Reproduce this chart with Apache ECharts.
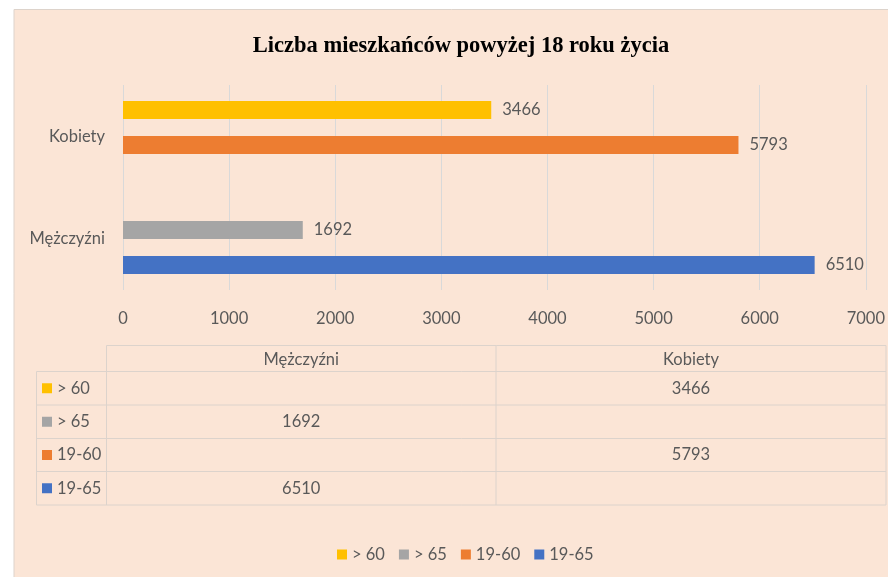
<!DOCTYPE html>
<html>
<head>
<meta charset="utf-8">
<script src="https://cdn.jsdelivr.net/npm/echarts@6/dist/echarts.min.js"></script>
<style>
  html, body { margin: 0; padding: 0; background: #ffffff; }
  #chart { width: 888px; height: 577px; }
</style>
</head>
<body>
<div id="chart"></div>
<script>
// dane z wykresu
const categories = ['Mężczyźni', 'Kobiety']
const seriesNames = ['> 60', '> 65', '19-60', '19-65']
const over60 = [null, 3466]
const over65 = [1692, null]
const age19to60 = [null, 5793]
const age19to65 = [6510, null]
const xTicks = [0, 1000, 2000, 3000, 4000, 5000, 6000, 7000]

const colors = ['#FFC000', '#A5A5A5', '#ED7D31', '#4472C4']
const textColor = '#595959'
const lineColor = '#DCD3CC'
const font = 'Lato, "Open Sans", sans-serif'

// tabela danych pod wykresem
function buildTable() {
  const rows = [over60, over65, age19to60, age19to65]
  const colX = [36.5, 106.5, 496, 886]
  const rowY = [345.5, 371.5, 405, 438.5, 471.5, 505]
  const els = []
  const line = (x1, y1, x2, y2) => els.push({
    type: 'line', silent: true,
    shape: { x1, y1, x2, y2 },
    style: { stroke: lineColor, lineWidth: 1 }
  })
  const text = (t, x, y, align) => els.push({
    type: 'text', silent: true, x, y,
    style: { text: t, fill: textColor, font: '16.5px ' + font, align: align || 'center', verticalAlign: 'middle' }
  })

  line(colX[1], rowY[0], colX[3], rowY[0])
  for (let i = 1; i < rowY.length; i++) line(colX[0], rowY[i], colX[3], rowY[i])
  line(colX[0], rowY[1], colX[0], rowY[5])
  for (let j = 1; j < colX.length; j++) line(colX[j], rowY[0], colX[j], rowY[5])

  categories.forEach((c, j) => {
    text(c, (colX[j + 1] + colX[j + 2]) / 2, (rowY[0] + rowY[1]) / 2 + 1)
  })
  rows.forEach((vals, i) => {
    const cy = (rowY[i + 1] + rowY[i + 2]) / 2
    els.push({
      type: 'rect', silent: true,
      shape: { x: 42, y: cy - 5, width: 10, height: 10 },
      style: { fill: colors[i] }
    })
    text(seriesNames[i], 57, cy, 'left')
    vals.forEach((v, j) => {
      if (v != null) text(String(v), (colX[j + 1] + colX[j + 2]) / 2, cy)
    })
  })
  return els
}

const myChart = echarts.init(document.getElementById('chart'))

const seriesData = [over60, over65, age19to60, age19to65]
const stacks = ['a', 'a', 'b', 'b']

myChart.setOption({
  backgroundColor: '#ffffff',
  color: colors,
  textStyle: { fontFamily: font },
  title: {
    text: 'Liczba mieszkańców powyżej 18 roku życia',
    left: 456,
    textAlign: 'center',
    top: 30,
    textStyle: {
      fontFamily: '"Liberation Serif", "DejaVu Serif", serif',
      fontWeight: 'bold',
      fontSize: 22.5,
      color: '#000000'
    }
  },
  legend: {
    data: seriesNames,
    left: 332,
    top: 541,
    icon: 'rect',
    itemWidth: 10,
    itemHeight: 10,
    itemGap: 14,
    textStyle: { fontFamily: font, fontSize: 16.5, color: textColor }
  },
  graphic: [
    {
      type: 'rect', silent: true, z: -10,
      shape: { x: 14, y: 9.5, width: 880, height: 570 },
      style: { fill: '#FBE5D6', stroke: '#DDD3CB', lineWidth: 1 }
    },
    ...buildTable()
  ],
  grid: [
    { left: 123, right: 21.3, top: 85, height: 205 },
    { left: 123, right: 21.3, top: 67.5, height: 240 }
  ],
  xAxis: [
    {
      gridIndex: 0,
      type: 'value',
      min: xTicks[0],
      max: xTicks[xTicks.length - 1],
      interval: 1000,
      axisLine: { show: false },
      axisTick: { show: false },
      splitLine: { lineStyle: { color: '#D9D9D9' } },
      axisLabel: {
        margin: 20, fontSize: 16.5, color: textColor, fontFamily: font,
        formatter: v => String(v)
      }
    },
    {
      gridIndex: 1,
      type: 'value',
      min: xTicks[0],
      max: xTicks[xTicks.length - 1],
      show: false
    }
  ],
  yAxis: [
    {
      gridIndex: 0,
      type: 'category',
      data: categories,
      axisLine: { show: false },
      axisTick: { show: false },
      axisLabel: { margin: 18, fontSize: 16.5, color: textColor, fontFamily: font }
    },
    {
      gridIndex: 1,
      type: 'category',
      data: categories,
      show: false
    }
  ],
  series: seriesNames.map((name, i) => ({
    name,
    type: 'bar',
    xAxisIndex: 1,
    yAxisIndex: 1,
    stack: stacks[i],
    data: seriesData[i],
    barWidth: 18,
    barGap: '95%',
    label: {
      show: true,
      position: 'right',
      distance: 11,
      fontSize: 16.5,
      color: textColor,
      fontFamily: font
    }
  }))
})
</script>
</body>
</html>
